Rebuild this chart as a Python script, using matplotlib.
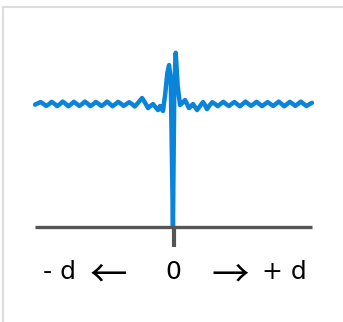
import matplotlib
matplotlib.use("Agg")
import matplotlib.pyplot as plt
from matplotlib.lines import Line2D

# Curve data (distance d, arbitrary units; value normalised to baseline 1)
left_x = [-1.00, -0.98, -0.96, -0.94, -0.92, -0.90, -0.88, -0.86, -0.84, -0.82,
          -0.80, -0.78, -0.76, -0.74, -0.72, -0.70, -0.68, -0.66, -0.64, -0.62,
          -0.60, -0.58, -0.56, -0.54, -0.52, -0.50, -0.48, -0.46, -0.44, -0.42,
          -0.40, -0.38, -0.36, -0.34, -0.32, -0.30, -0.28, -0.26]
left_y = [0.995, 1.006, 1.016, 1.002, 0.985, 0.999, 1.018, 1.002, 0.983, 0.999,
          1.020, 1.003, 0.982, 0.998, 1.018, 1.002, 0.985, 1.000, 1.020, 1.003,
          0.983, 0.999, 1.017, 1.001, 0.984, 1.000, 1.020, 1.002, 0.982, 0.999,
          1.018, 1.003, 0.985, 1.000, 1.015, 1.000, 0.980, 1.005]
center_x = [-0.227, -0.205, -0.184, -0.166, -0.148, -0.130, -0.112, -0.097, -0.076,
            -0.060, -0.045, -0.032, -0.020, -0.004, 0.006, 0.016, 0.030, 0.047,
            0.065, 0.083, 0.098, 0.112, 0.127, 0.141, 0.156, 0.170, 0.192, 0.213,
            0.228, 0.242, 0.261]
center_y = [1.049, 1.010, 0.967, 0.985, 1.000, 0.975, 0.951, 0.984, 0.943,
            1.080, 1.250, 1.317, 1.200, 0.0, 1.150, 1.417, 1.150, 0.992,
            1.010, 1.033, 1.000, 0.967, 0.985, 1.000, 0.975, 0.951, 0.985, 1.016,
            0.990, 0.959, 0.990]
right_x = [0.28, 0.30, 0.32, 0.34, 0.36, 0.38, 0.40, 0.42, 0.44, 0.46,
           0.48, 0.50, 0.52, 0.54, 0.56, 0.58, 0.60, 0.62, 0.64, 0.66,
           0.68, 0.70, 0.72, 0.74, 0.76, 0.78, 0.80, 0.82, 0.84, 0.86,
           0.88, 0.90, 0.92, 0.94, 0.96, 0.98, 1.00]
right_y = [1.015, 1.000, 0.983, 1.001, 1.018, 1.000, 0.984, 1.001, 1.017, 0.999,
           0.982, 1.001, 1.020, 1.002, 0.985, 1.001, 1.018, 1.000, 0.983, 1.000,
           1.016, 1.000, 0.984, 1.002, 1.020, 1.001, 0.982, 1.000, 1.018, 1.002,
           0.985, 1.002, 1.020, 1.001, 0.984, 0.998, 1.010]

tick_labels = ["- d", "\u2190", "0", "\u2192", "+ d"]
tick_label_x = [-0.82, -0.47, 0.0, 0.41, 0.80]

x = left_x + center_x + right_x
y = left_y + center_y + right_y

fig = plt.figure(figsize=(3.43, 3.22), dpi=100)
ax = fig.add_axes([0, 0, 1, 1])
ax.set_xlim(-1.253, 1.224)
ax.set_ylim(-0.772, 1.846)
ax.axis("off")

ax.plot(x, y, color="#0984d8", lw=3.2, solid_joinstyle="round",
        solid_capstyle="round", zorder=2)
ax.plot([-1.0, 1.0], [0, 0], color="#555555", lw=2.4, solid_capstyle="butt", zorder=3)
ax.plot([0.0, 0.0], [0, -0.163], color="#555555", lw=3.0, solid_capstyle="butt", zorder=3)

for lbl, lx in zip(tick_labels, tick_label_x):
    if lbl in ("\u2190", "\u2192"):
        ax.text(lx, -0.400, lbl, ha="center", va="center", fontsize=27,
                family=["Noto Sans CJK JP", "DejaVu Sans"], color="black")
    else:
        ax.text(lx, -0.366, lbl, ha="center", va="center", fontsize=18,
                family="DejaVu Sans", color="black")

# light frame of the screenshot
fig.add_artist(Line2D([3.5 / 343, 3.5 / 343], [0, 1 - 7 / 322], transform=fig.transFigure,
                      color="#dddddd", lw=1.5))
fig.add_artist(Line2D([3.5 / 343, 1], [1 - 7 / 322, 1 - 7 / 322], transform=fig.transFigure,
                      color="#dddddd", lw=1.5))

fig.savefig("out.png", dpi=100)
